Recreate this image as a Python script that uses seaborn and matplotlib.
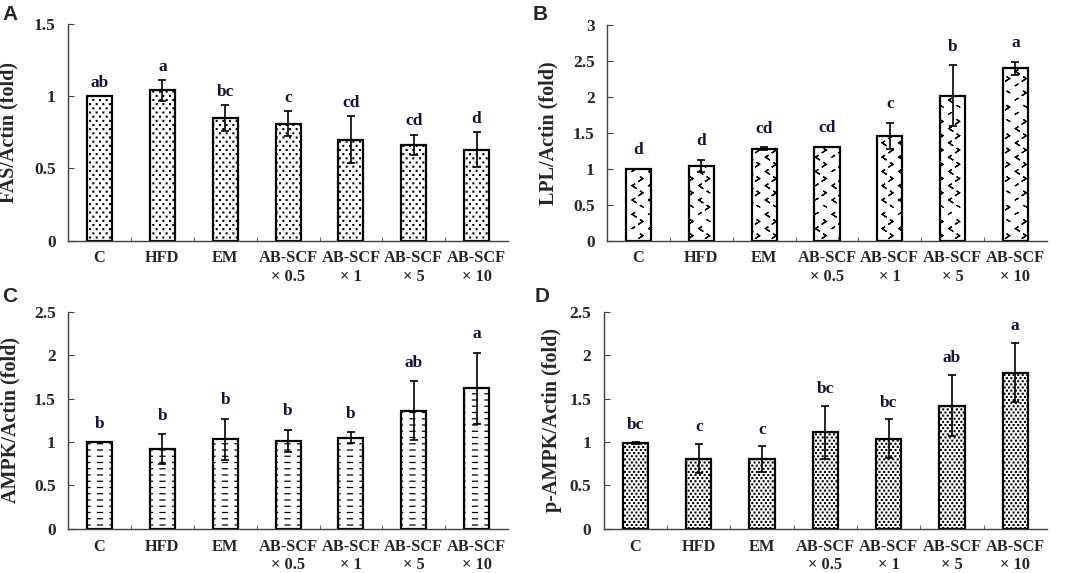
import warnings
import numpy as np
import seaborn as sns
import matplotlib.pyplot as plt
from matplotlib import hatch as mhatch
from matplotlib.path import Path

warnings.filterwarnings('ignore', message='hatch must consist')

# group names and values
groups = ['C', 'HFD', 'EM', 'AB-SCF\n× 0.5', 'AB-SCF\n× 1', 'AB-SCF\n× 5', 'AB-SCF\n× 10']

fas_mean = [1.00, 1.04, 0.85, 0.81, 0.70, 0.665, 0.63]
fas_err = [0.0, 0.07, 0.09, 0.085, 0.16, 0.07, 0.12]
fas_sig = ['ab', 'a', 'bc', 'c', 'cd', 'cd', 'd']

lpl_mean = [1.00, 1.04, 1.28, 1.31, 1.46, 2.02, 2.40]
lpl_err = [0.0, 0.09, 0.02, 0.0, 0.18, 0.42, 0.09]
lpl_sig = ['d', 'd', 'cd', 'cd', 'c', 'b', 'a']

ampk_mean = [1.00, 0.92, 1.03, 1.01, 1.05, 1.36, 1.62]
ampk_err = [0.0, 0.17, 0.24, 0.13, 0.06, 0.34, 0.41]
ampk_sig = ['b', 'b', 'b', 'b', 'b', 'ab', 'a']

pampk_mean = [0.99, 0.81, 0.80, 1.11, 1.04, 1.42, 1.80]
pampk_err = [0.01, 0.17, 0.15, 0.31, 0.22, 0.35, 0.34]
pampk_sig = ['bc', 'c', 'c', 'bc', 'bc', 'ab', 'a']

fas_ticks = [0, 0.5, 1, 1.5]
lpl_ticks = [0, 0.5, 1, 1.5, 2, 2.5, 3]
ampk_ticks = [0, 0.5, 1, 1.5, 2, 2.5]


# small custom hatches (dots, chevrons, dashes) laid on a grid in the 1x1 hatch tile
class MarkHatch(mhatch.HatchPatternBase):
    char = None
    stagger = True

    def __init__(self, hatch, density):
        on = hatch is not None and self.char in hatch
        self.num_vertices = len(self.codes) * (self.ncols + 1) * (self.nrows + 1) if on else 0

    def set_vertices_and_codes(self, vertices, codes):
        vs, cs = [], []
        for r in range(self.nrows + 1):
            shift = 0.5 / self.ncols if (self.stagger and r % 2) else 0.0
            shape = np.asarray(self.shapes[r % len(self.shapes)], float)
            for c in range(self.ncols + 1):
                vs.append(shape + [c / self.ncols + shift, r / self.nrows])
                cs.append(np.asarray(self.codes, dtype=Path.code_type))
        vertices[:] = np.concatenate(vs)
        codes[:] = np.concatenate(cs)


s = 0.004
square = [(-s, -s), (s, -s), (s, s), (-s, s), (-s, -s)]
square_codes = [Path.MOVETO, Path.LINETO, Path.LINETO, Path.LINETO, Path.CLOSEPOLY]
left_chev = [(0.012, 0.016), (-0.012, 0), (0.012, -0.016), (-0.012, 0), (0.012, 0.016)]
right_chev = [(-x, y) for x, y in left_chev]


class SparseDots(MarkHatch):
    char, shapes, codes, ncols, nrows = ':', [square], square_codes, 15, 24


class DenseDots(MarkHatch):
    char, shapes, codes, ncols, nrows = ';', [square], square_codes, 22, 32


class Chevrons(MarkHatch):
    char, shapes, ncols, nrows = 'v', [left_chev, right_chev], 6, 14
    codes = [Path.MOVETO] + [Path.LINETO] * 4


class Dashes(MarkHatch):
    char, shapes, ncols, nrows, stagger = '_', [[(-0.025, 0), (0.025, 0)]], 8, 16, False
    codes = [Path.MOVETO, Path.LINETO]


mhatch._hatch_types.extend([SparseDots, DenseDots, Chevrons, Dashes])

sns.set_style('ticks')
plt.rcParams['font.family'] = ['Liberation Serif', 'DejaVu Serif']
plt.rcParams['font.weight'] = 'bold'
plt.rcParams['axes.labelweight'] = 'bold'
plt.rcParams['hatch.linewidth'] = 0.9
plt.rcParams['hatch.color'] = 'black'

fig = plt.figure(figsize=(10.65, 5.73), dpi=100)

panels = [
    ('A', [0.064, 0.580, 0.413, 0.378], (0.002, 0.992), 'FAS/Actin (fold)',
     fas_mean, fas_err, fas_sig, fas_ticks, ':', 0.035, -0.112),
    ('B', [0.570, 0.580, 0.413, 0.376], (0.500, 0.992), 'LPL/Actin (fold)',
     lpl_mean, lpl_err, lpl_sig, lpl_ticks, 'v', 0.15, -0.11),
    ('C', [0.064, 0.077, 0.413, 0.379], (0.002, 0.500), 'AMPK/Actin (fold)',
     ampk_mean, ampk_err, ampk_sig, ampk_ticks, '_', 0.12, -0.108),
    ('D', [0.567, 0.077, 0.416, 0.379], (0.502, 0.500), 'p-AMPK/Actin (fold)',
     pampk_mean, pampk_err, pampk_sig, ampk_ticks, ';', 0.10, -0.094),
]

for letter, rect, corner, ylabel, mean, err, sig, ticks, hatch, gap, lab_x in panels:
    ax = fig.add_axes(rect)
    sns.barplot(x=groups, y=mean, color='white', saturation=1, width=0.4,
                edgecolor='black', linewidth=1.6, errorbar=None, ax=ax)
    for bar in ax.patches:
        bar.set_hatch(hatch)
    pos = np.arange(len(groups))
    ax.errorbar(pos, mean, yerr=err, fmt='none', ecolor='black',
                elinewidth=1.2, capsize=2.6, capthick=1.2, zorder=5)
    for i in pos:
        ax.text(i, mean[i] + err[i] + gap, sig[i], ha='center', va='bottom',
                fontsize=12.5, color='#12123a')

    ax.set_ylim(0, ticks[-1])
    ax.set_xlim(-0.5, len(groups) - 0.5)
    ax.set_yticks(ticks, labels=[f'{t:g}' for t in ticks])
    ax.set_xticks(np.arange(0.5, len(groups) - 0.5), minor=True)
    ax.tick_params(axis='x', which='major', length=0, pad=7, labelsize=11.8)
    ax.tick_params(axis='x', which='minor', direction='in', length=3, color='#404040')
    ax.tick_params(axis='y', direction='in', length=4, pad=9, labelsize=12.5, color='#404040')
    for lab in ax.get_xticklabels():
        lab.set_linespacing(1.2)
    ax.set_ylabel(ylabel, fontsize=14.5)
    ax.yaxis.set_label_coords(lab_x, 0.5)
    sns.despine(ax=ax)
    for side in ['left', 'bottom']:
        ax.spines[side].set_color('#404040')
        ax.spines[side].set_linewidth(1.0)

    fig.text(corner[0], corner[1], letter, ha='left', va='top',
             fontsize=15, fontweight='bold', family=['Liberation Sans', 'DejaVu Sans'])

fig.savefig('out.png', dpi=100)
